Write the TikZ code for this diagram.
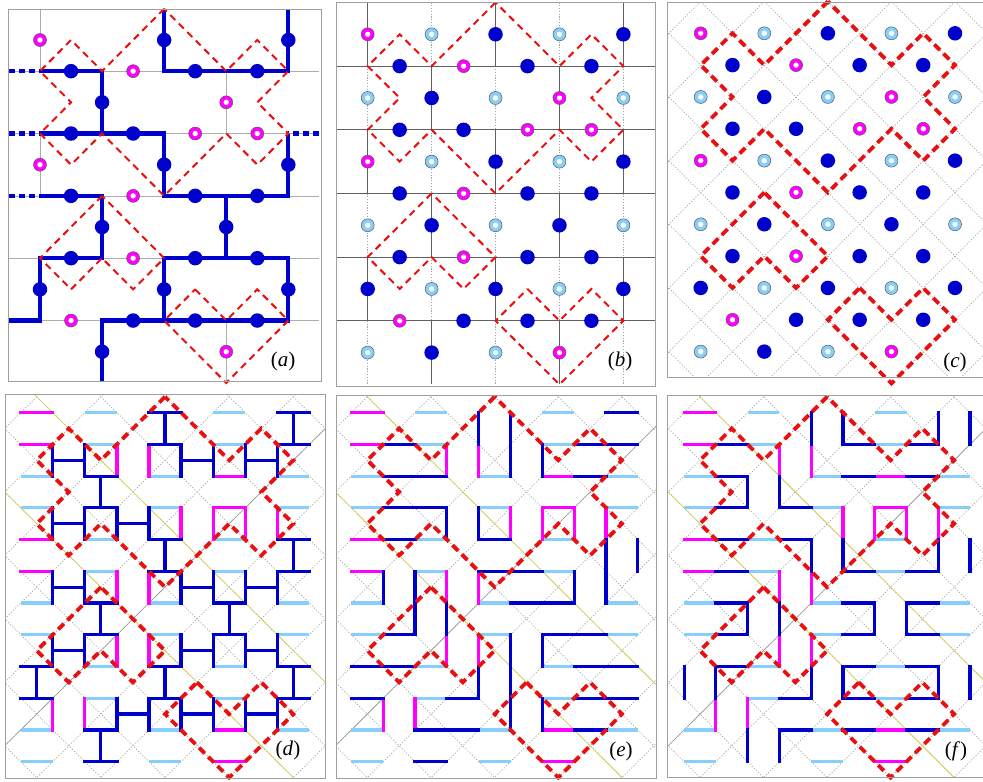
\documentclass[tikz,border=0pt]{standalone}
\usepackage{fontspec}
\setmainfont{Liberation Serif}
\definecolor{dblue}{RGB}{0,0,205}
\definecolor{mag}{RGB}{255,0,255}
\definecolor{lblue}{RGB}{135,206,250}
\definecolor{rdash}{RGB}{232,16,16}
\definecolor{ylw}{RGB}{215,205,60}
% site lists (i/j), i+j even
\def\SB{4/0,8/0,1/1,5/1,7/1,2/2,1/3,3/3,4/4,8/4,1/5,5/5,7/5,2/6,6/6,1/7,5/7,7/7,0/8,4/8,8/8,3/9,5/9,7/9,2/10}
\def\SM{0/0,3/1,6/2,5/3,7/3,0/4,3/5,3/7,1/9,6/10}
\def\SL{2/0,6/0,0/2,4/2,8/2,2/4,6/4,0/6,4/6,8/6,2/8,6/8,0/10,4/10}
\def\MV{3/1,5/3,7/3,3/5,3/7,1/9}
\def\MH{0/0,6/2,0/4,6/10}
\def\DBH{4/0,8/0,2/2,4/4,8/4,2/6,6/6,0/8,4/8,8/8,2/10}
\def\DBV{1/1,5/1,7/1,1/3,3/3,1/5,5/5,7/5,1/7,5/7,7/7,3/9,5/9,7/9}
\def\EBH{8/0,1/1,7/1,2/2,1/3,4/4,5/5,6/6,1/7,7/7,0/8,8/8,3/9,7/9,2/10}
\def\EBV{4/0,5/1,3/3,8/4,1/5,7/5,2/6,5/7,4/8,5/9}
\tikzset{
 pana/.style={shift={(40,40)},x=31.04pt,y=-31.17pt},
 panb/.style={shift={(367.7,34.3)},x=31.96pt,y=-31.83pt},
 panc/.style={shift={(700.7,33.3)},x=31.79pt,y=-31.83pt},
 pand/.style={shift={(36.7,428.5)},x=32.08pt,y=-31.73pt},
 pane/.style={shift={(367.3,428.5)},x=31.83pt,y=-31.73pt},
 panf/.style={shift={(700,428.5)},x=31.77pt,y=-31.73pt},
 frame/.style={draw=gray!75, line width=1pt},
 gridA/.style={draw=gray!65, line width=0.7pt},
 gridB/.style={draw=gray!75!black, line width=0.8pt},
 gridBd/.style={draw=gray!70, line width=0.7pt, dash pattern=on 1.2pt off 1.6pt},
 dotg/.style={draw=gray!70, line width=0.7pt, dash pattern=on 1.2pt off 1.8pt},
 bdot/.style={circle, fill=dblue, minimum size=14.5pt, inner sep=0pt},
 ring/.style={circle, fill=#1, draw=gray!70!black, line width=0.5pt, minimum size=13pt, inner sep=0pt,
   path picture={\fill[white] (path picture bounding box.center) circle (2.7pt);}},
 apath/.style={draw=dblue, line width=4.2pt, line join=miter},
 adash/.style={apath, dash pattern=on 6pt off 4pt},
 redA/.style={draw=rdash, line width=2pt, dash pattern=on 7pt off 5pt, line join=miter},
 redC/.style={draw=rdash, line width=3.8pt, dash pattern=on 8pt off 5pt, line join=miter},
 lbbar/.style={draw=lblue, line width=3.2pt},
 mgbar/.style={draw=mag, line width=3.2pt, line cap=rect},
 blbar/.style={draw=dblue, line width=3.2pt, line cap=rect},
 lab/.style={font=\fontsize{21}{21}\selectfont, inner sep=1pt},
}
\newcommand\barsH[2]{\foreach \i/\j in #2 {\draw[#1] ({\i-.5},{\j-.5}) -- ++(1,0) ({\i-.5},{\j+.5}) -- ++(1,0);}}
\newcommand\barsV[2]{\foreach \i/\j in #2 {\draw[#1] ({\i-.5},{\j-.5}) -- ++(0,1) ({\i+.5},{\j-.5}) -- ++(0,1);}}
\newcommand\redloops[1]{%
 \draw[#1] (4,-1)--(2,1)--(1,0)--(0,1)--(1,2)--(0,3)--(1,4)--(2,3)--(4,5)--(6,3)--(7,4)--(8,3)--(7,2)--(8,1)--(7,0)--(6,1)--cycle;
 \draw[#1] (2,5)--(0,7)--(1,8)--(2,7)--(3,8)--(4,7)--cycle;
 \draw[#1] (5,8)--(6,9)--(7,8)--(8,9)--(6,11)--(4,9)--cycle;}
\newcommand\diaggrid{%
 \foreach \c in {-13,-11,...,11} {\draw[dotg] ({\c-3},-3) -- ({\c+14},14);}
 \foreach \c in {-3,-1,...,21} {\draw[dotg] ({\c+3},-3) -- ({\c-14},14);}}
\newcommand\axlines{%
 \draw[ylw, line width=0.6pt] (-2,-3) -- (15,14);
 \draw[ylw, line width=0.6pt] (-6,-3) -- (11,14);
 \draw[gray!80, line width=0.6pt] (12,-3) -- (-5,14);}
\newcommand\sitedots[1]{%
 \foreach \i/\j in \SB {\node[bdot] (#1b\i-\j) at (\i,\j) {};}
 \foreach \i/\j in \SM {\node[ring=mag] (#1m\i-\j) at (\i,\j) {};}}
\newcommand\lbdots[1]{\foreach \i/\j in \SL {\node[ring=lblue] (#1l\i-\j) at (\i,\j) {};}}
\newcommand\commonbars{%
 \barsH{lbbar}{\SL}
 \draw[lbbar] (7.5,9.5) -- ++(1,0);
 \barsH{mgbar}{\MH}
 \barsV{mgbar}{\MV}}

\begin{document}
\begin{tikzpicture}[x=1pt,y=-1pt]
\useasboundingbox (0,0) rectangle (983,782);
\clip (0,0) rectangle (983,782);
\fill[white] (0,0) rectangle (983,782);

% ---------------- (a)
\begin{scope}
 \clip (8.3,9.3) rectangle (321,381);
 \begin{scope}[pana]
  \foreach \j in {1,3,5,7,9} {\draw[gridA] (-1,\j) -- (9,\j);}
  \foreach \ja in {-1,3,7} {\foreach \i in {0,4,8} {\draw[gridA] (\i,\ja) -- ++(0,2);}}
  \foreach \ja in {1,5,9} {\foreach \i in {2,6} {\draw[gridA] (\i,\ja) -- ++(0,2);}}
  \draw[apath] (4,-1.2) -- (4,1) -- (8,1) -- (8,-1.2);
  \draw[apath] (0,1) -- (2,1) -- (2,3);
  \draw[apath] (0,3) -- (4,3) -- (4,5) -- (8,5) -- (8,3);
  \draw[apath] (6,5) -- (6,7);
  \draw[apath] (0,5) -- (2,5) -- (2,7) -- (0,7) -- (0,9) -- (-1.2,9);
  \draw[apath] (4,7) -- (8,7) -- (8,9) -- (4,9) -- cycle;
  \draw[apath] (2,11.2) -- (2,9) -- (4,9);
  \draw[adash] (-1,1) -- (0,1);
  \draw[adash] (-1,3) -- (0,3);
  \draw[adash] (-1,5) -- (0,5);
  \draw[adash] (9,3) -- (8,3);
 \end{scope}
\end{scope}
\begin{scope}[pana]
 \redloops{redA}
 \sitedots{a}
\end{scope}
\draw[frame] (8.3,9.3) rectangle (321,381);
\node[lab] (la) at (283,361) {(\textit{a})};

% ---------------- (b)
\begin{scope}
 \clip (336,2.7) rectangle (655,386.5);
 \begin{scope}[panb]
  \foreach \ja in {-1,3,7} {\foreach \i in {2,6} {\draw[gridBd] (\i,\ja) -- ++(0,2);}}
  \foreach \ja in {1,5,9} {\foreach \i in {0,4,8} {\draw[gridBd] (\i,\ja) -- ++(0,2);}}
  \foreach \j in {1,3,5,7,9} {\draw[gridB] (-1.2,\j) -- (9.2,\j);}
  \foreach \ja in {-1,3,7} {\foreach \i in {0,4,8} {\draw[gridB] (\i,\ja) -- ++(0,2);}}
  \foreach \ja in {1,5,9} {\foreach \i in {2,6} {\draw[gridB] (\i,\ja) -- ++(0,2);}}
 \end{scope}
\end{scope}
\begin{scope}[panb]
 \redloops{redA}
 \sitedots{b}
 \lbdots{b}
\end{scope}
\draw[frame] (336,2.7) rectangle (655,386.5);
\node[lab] (lb) at (620,361) {(\textit{b})};

% ---------------- (c)
\begin{scope}
 \clip (667.7,2.7) rectangle (995,377);
 \begin{scope}[panc]
  \diaggrid
 \end{scope}
\end{scope}
\begin{scope}[panc]
 \redloops{redC}
 \sitedots{c}
 \lbdots{c}
\end{scope}
\draw[frame] (667.7,2.7) rectangle (995,377);
\node[lab] (lc) at (955,362) {(\textit{c})};

% ---------------- (d)
\begin{scope}
 \clip (5,394) rectangle (325,778);
 \begin{scope}[pand]
  \diaggrid
  \axlines
 \end{scope}
\end{scope}
\begin{scope}[pand]
 \commonbars
 \barsH{blbar}{\DBH}
 \barsV{blbar}{\DBV}
 \foreach \i/\j in \DBH {\draw[blbar] (\i,{\j-.5}) -- ++(0,1);}
 \foreach \i/\j in \DBV {\draw[blbar] ({\i-.5},\j) -- ++(1,0);}
 \redloops{redC}
\end{scope}
\draw[frame] (5,394) rectangle (325,778);
\node[lab] (ld) at (288,750) {(\textit{d})};

% ---------------- (e)
\begin{scope}
 \clip (336,395) rectangle (656,778);
 \begin{scope}[pane]
  \diaggrid
  \axlines
 \end{scope}
\end{scope}
\begin{scope}[pane]
 \commonbars
 \barsH{blbar}{\EBH}
 \barsV{blbar}{\EBV}
 \redloops{redC}
\end{scope}
\draw[frame] (336,395) rectangle (656,778);
\node[lab] (le) at (621,751) {(\textit{e})};

% ---------------- (f)
\begin{scope}
 \clip (667.7,395) rectangle (995,777);
 \begin{scope}[panf]
  \diaggrid
  \axlines
 \end{scope}
\end{scope}
\begin{scope}[panf]
 \commonbars
 \barsH{blbar}{\DBV}
 \barsV{blbar}{\DBH}
 \redloops{redC}
\end{scope}
\draw[frame] (667.7,395) rectangle (995,777);
\node[lab] (lf) at (956,751) {(\textit{f})};
\end{tikzpicture}
\end{document}
